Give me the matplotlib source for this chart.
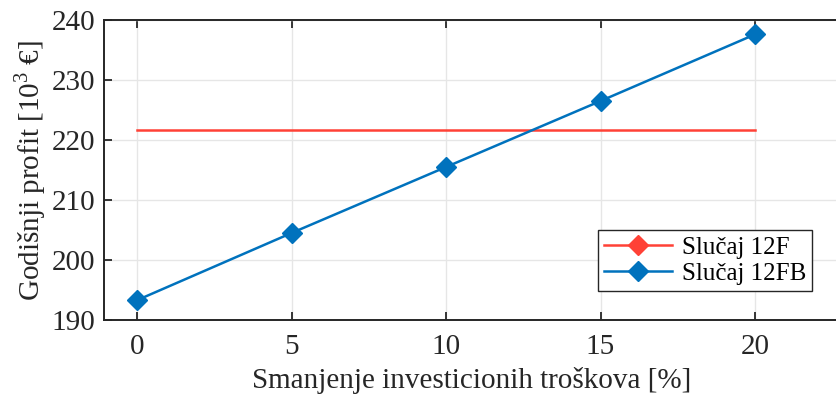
import matplotlib
matplotlib.use('Agg')
import matplotlib.pyplot as plt
from matplotlib.lines import Line2D

# podaci
smanjenje = [0, 5, 10, 15, 20]
profit_12F = [221.7, 221.7, 221.7, 221.7, 221.7]
profit_12FB = [193.3, 204.5, 215.5, 226.5, 237.6]
labels = ['Slučaj 12F', 'Slučaj 12FB']

red = '#FF4136'
blue = '#0072BD'

plt.rcParams['font.family'] = ['Liberation Serif', 'DejaVu Serif']
plt.rcParams['mathtext.fontset'] = 'custom'
plt.rcParams['mathtext.rm'] = 'Liberation Serif'
plt.rcParams['font.size'] = 21

fig = plt.figure(figsize=(8.36, 3.96), dpi=100)
ax = fig.add_axes([104 / 836, 1 - 320 / 396, 736 / 836, 300 / 396])

ax.plot(smanjenje, profit_12F, color=red, lw=1.8, zorder=3)
ax.plot(smanjenje, profit_12FB, color=blue, lw=1.8, marker='D', ms=10, zorder=4)

ax.set_xlim(-1.07, 22.75)
ax.set_ylim(190, 240)
ax.set_xticks([0, 5, 10, 15, 20])
ax.set_yticks([190, 200, 210, 220, 230, 240])
ax.grid(True, color='#e6e6e6', lw=1)
ax.set_axisbelow(True)
ax.tick_params(direction='in', length=6, width=1.3, colors='#262626', pad=6)
ax.tick_params(axis='x', pad=10, top=True)
for s in ax.spines.values():
    s.set_color('#262626')
    s.set_linewidth(1.4)

ax.set_xlabel('Smanjenje investicionih troškova [%]', color='#262626', labelpad=5)
ax.set_ylabel('Godišnji profit [10$^3$ €]', color='#262626', labelpad=3)

# legenda s markerima (crvena linija na grafu nema markere)
handles = [Line2D([], [], color=red, lw=1.8, marker='D', ms=10),
           Line2D([], [], color=blue, lw=1.8, marker='D', ms=10)]
leg = fig.legend(handles, labels, loc='upper left',
                 bbox_to_anchor=(598 / 836, 1 - 230 / 396),
                 fancybox=False, framealpha=1, edgecolor='#262626',
                 borderaxespad=0, handlelength=2.7, borderpad=0.25,
                 labelspacing=0.15, handletextpad=0.4, fontsize=18)
leg.get_frame().set_linewidth(1)

plt.savefig('out.png', dpi=100)
